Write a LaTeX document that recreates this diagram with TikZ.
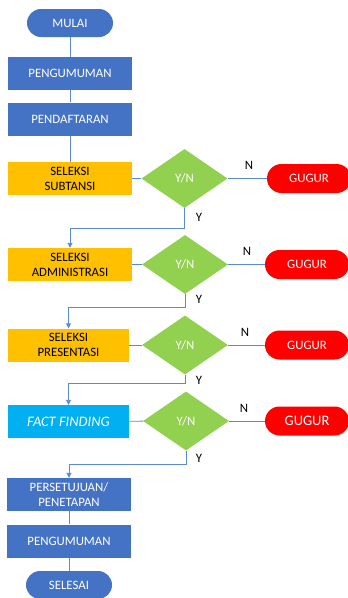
\documentclass[tikz,border=0pt]{standalone}
\usepackage{fontspec}
\setmainfont{Carlito}
\usetikzlibrary{shapes,arrows.meta}

\definecolor{flowblue}{RGB}{68,114,196}
\definecolor{flowyellow}{RGB}{255,192,0}
\definecolor{flowgreen}{RGB}{146,208,80}
\definecolor{flowred}{RGB}{255,0,0}
\definecolor{flowcyan}{RGB}{0,176,240}
\definecolor{flowline}{RGB}{91,138,212}

\begin{document}
\begin{tikzpicture}[x=1pt,y=-1pt,
    every node/.style={font=\fontsize{12.8}{15}\selectfont, align=center, inner sep=0pt},
    proc/.style={rectangle, fill=flowblue, text=white, minimum width=124pt, minimum height=33pt},
    sel/.style={rectangle, fill=flowyellow, text=black, minimum width=124pt, minimum height=33pt},
    term/.style={rectangle, rounded corners=14pt, fill=flowblue, text=white, minimum width=86pt, minimum height=28pt},
    yn/.style={diamond, fill=flowgreen, text=white, minimum width=86pt, minimum height=59pt},
    gugur/.style={rectangle, rounded corners=14.5pt, fill=flowred, text=white, minimum width=84pt, minimum height=29pt},
    link/.style={draw=flowline, line width=0.9pt},
    elbow/.style={link, -{Triangle[length=5pt,width=5pt]}}]
    \useasboundingbox (0,0) rectangle (348,598);

    % main column
    \node[term] (mulai) at (70,23) {MULAI};
    \node[proc] (umum1) at (70,73.5) {PENGUMUMAN};
    \node[proc] (daftar) at (70,119) {PENDAFTARAN};
    \node[sel] (s1) at (70,178.5) {SELEKSI\\SUBTANSI};
    \node[sel] (s2) at (70,264.5) {SELEKSI\\ADMINISTRASI};
    \node[sel, minimum width=121pt] (s3) at (68.5,345) {SELEKSI\\PRESENTASI};
    \node[proc, fill=flowcyan, minimum width=121pt, font=\fontsize{14.5}{15}\selectfont] (s4) at (68.5,421.5) {\textit{FACT FINDING}};
    \node[proc] (tetap) at (69,494.5) {PERSETUJUAN/\\PENETAPAN};
    \node[proc] (umum2) at (69,541) {PENGUMUMAN};
    \node[term] (selesai) at (69,585) {SELESAI};

    \draw[link] (mulai) -- (umum1);
    \draw[link] (umum1) -- (daftar);
    \draw[link] (daftar) -- (s1);
    \draw[link] (tetap) -- (umum2);
    \draw[link] (umum2) -- (selesai);

    % decisions
    \foreach \i/\dx/\y/\gx/\gs/\nx/\yy/\next/\ey in {1/184.5/178.5/309/12.8/249/217/s2/228,
        2/185/264.5/307/12.8/247/299/s3/307, 3/185/345/307/12.8/245/380/s4/383,
        4/186/421/307/14.5/244/458/tetap/464} {
      \node[yn] (d\i) at (\dx,\y) {Y/N};
      \node[gugur, font=\fontsize{\gs}{15}\selectfont] (g\i) at (\gx,\y) {GUGUR};
      \node (n\i) at (\nx,\y-13) {N};
      \node (y\i) at (199,\yy) {Y};
      \draw[link] (s\i) -- (d\i);
      \draw[link] (d\i) -- (g\i);
      \draw[elbow] (d\i.south) -- (\dx,\ey) -| (\next.north);
    }
\end{tikzpicture}
\end{document}
